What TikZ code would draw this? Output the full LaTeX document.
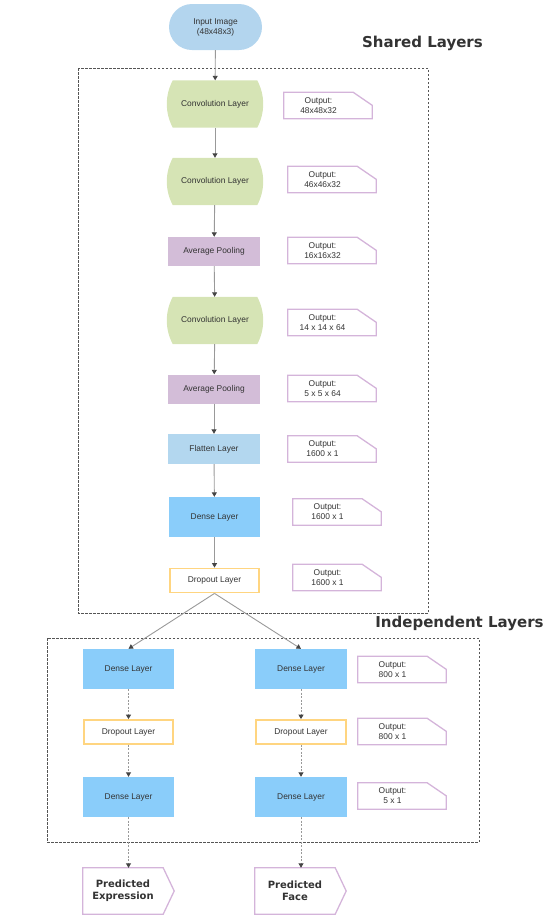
\documentclass[tikz,border=0pt]{standalone}
\usepackage{fontspec}
\newfontfamily\labfont{Liberation Sans}
\newfontfamily\headfont{DejaVu Sans}
\usetikzlibrary{arrows.meta,shapes.misc}
\definecolor{txtc}{HTML}{333333}
\definecolor{inpc}{HTML}{B3D5EE}
\definecolor{convc}{HTML}{D6E4B5}
\definecolor{poolc}{HTML}{D3BDD8}
\definecolor{flatc}{HTML}{B3D7EF}
\definecolor{densec}{HTML}{8ACDFA}
\definecolor{dropc}{HTML}{FFD580}
\definecolor{notec}{HTML}{D4B4DA}
\definecolor{linec}{HTML}{999999}
\definecolor{tipc}{HTML}{444444}
\definecolor{boxc}{HTML}{555555}
\pgfdeclarelayer{bg}
\pgfsetlayers{bg,main}
\begin{document}
\begin{tikzpicture}[x=1pt,y=-1pt,
  base/.style={font=\labfont\fontsize{8.4}{10}\selectfont, text=txtc, inner sep=0pt, align=center},
  inpbox/.style={base, rounded rectangle, fill=inpc, minimum width=93pt, minimum height=46pt},
  convbox/.style={base, minimum width=84pt, minimum height=47pt},
  poolbox/.style={base, fill=poolc, minimum width=92pt, minimum height=29pt},
  flatbox/.style={base, fill=flatc, minimum width=92pt, minimum height=30pt},
  densebox/.style={base, fill=densec, minimum width=91pt, minimum height=40pt},
  dropbox/.style={base, draw=dropc, line width=1.8pt, fill=white, minimum width=89pt, minimum height=24pt},
  notebox/.style={base, minimum width=69pt, minimum height=26pt},
  notedraw/.style={draw=notec, line width=1.3pt},
  predbox/.style={font=\headfont\bfseries\fontsize{10}{12}\selectfont, text=txtc, inner sep=0pt, align=center, minimum width=80pt, minimum height=46pt},
  heading/.style={font=\headfont\bfseries\fontsize{15}{18}\selectfont, text=txtc, inner sep=0pt},
  group/.style={draw=boxc, line width=1pt, dash pattern=on 2.5pt off 1.5pt},
  arr/.style={draw=linec, line width=0.9pt, -{Triangle[width=5pt,length=4.5pt,color=tipc]}},
  darr/.style={arr, dash pattern=on 2pt off 1.5pt}
]
\useasboundingbox (0,0) rectangle (556,922);

% group boxes
\draw[group] (78,68) rectangle (428,613);
\draw[group] (47,638) rectangle (479,842);
\node[heading] (h1) at (422.5,43) {Shared Layers};
\node[heading] (h2) at (459.5,623) {Independent Layers};

% shared column
\node[inpbox] (inp) at (215.5,27) {Input Image\\(48x48x3)};
\node[convbox] (c1) at (215,104) {Convolution Layer};
\node[convbox] (c2) at (215,181.5) {Convolution Layer};
\node[poolbox] (p1) at (214,251.5) {Average Pooling};
\node[convbox] (c3) at (215,320.5) {Convolution Layer};
\node[poolbox] (p2) at (214,389) {Average Pooling};
\node[flatbox] (fl) at (214,449) {Flatten Layer};
\node[densebox] (d1) at (214.5,517) {Dense Layer};
\node[dropbox] (dr) at (214.5,580.5) {Dropout Layer};

\begin{pgfonlayer}{bg}
\foreach \c in {c1,c2,c3}{
  \fill[convc] (\c.north west) .. controls +(-8,15) and +(-8,-15) .. (\c.south west)
     -- (\c.south east) .. controls +(8,-15) and +(8,15) .. (\c.north east) -- cycle;
}
\end{pgfonlayer}

% notes
\node[notebox] (n1) at (318.5,105.5) {Output:\\48x48x32};
\node[notebox] (n2) at (322.5,179.5) {Output:\\46x46x32};
\node[notebox] (n3) at (322.5,250.5) {Output:\\16x16x32};
\node[notebox] (n4) at (322.5,322.5) {Output:\\14 x 14 x 64};
\node[notebox] (n5) at (322.5,388.5) {Output:\\5 x 5 x 64};
\node[notebox] (n6) at (322.5,449) {Output:\\1600 x 1};
\node[notebox] (n7) at (327.5,512) {Output:\\1600 x 1};
\node[notebox] (n8) at (327.5,577.5) {Output:\\1600 x 1};
\node[notebox] (m1) at (392.5,669.5) {Output:\\800 x 1};
\node[notebox] (m2) at (392.5,731.5) {Output:\\800 x 1};
\node[notebox] (m3) at (392.5,796) {Output:\\5 x 1};
\foreach \n in {n1,n2,n3,n4,n5,n6,n7,n8,m1,m2,m3}{
  \draw[notedraw] (\n.north west) -- (\n.north east) -- ([xshift=19pt,yshift=-13pt]\n.north east)
     -- ([xshift=19pt]\n.south east) -- (\n.south west) -- cycle;
}

% independent columns
\node[densebox] (ld1) at (128.5,669) {Dense Layer};
\node[dropbox] (ldr) at (128.5,732) {Dropout Layer};
\node[densebox] (ld2) at (128.5,797) {Dense Layer};
\node[predbox] (lp) at (123,891) {Predicted\\Expression};
\node[densebox, minimum width=92pt] (rd1) at (301,669) {Dense Layer};
\node[dropbox, minimum width=90pt] (rdr) at (301,732) {Dropout Layer};
\node[densebox, minimum width=92pt] (rd2) at (301,797) {Dense Layer};
\node[predbox] (rp) at (295,891) {Predicted\\Face};
\foreach \p in {lp,rp}{
  \draw[notedraw] (\p.north west) -- (\p.north east) -- ([xshift=11pt]\p.east)
     -- (\p.south east) -- (\p.south west) -- cycle;
}

% connectors
\draw[arr] (inp) -- (c1);
\draw[arr] (c1) -- (c2);
\draw[arr] (c2) -- (p1);
\draw[arr] (p1) -- (c3);
\draw[arr] (c3) -- (p2);
\draw[arr] (p2) -- (fl);
\draw[arr] (fl) -- (d1);
\draw[arr] (d1) -- (dr);
\draw[arr] (dr.south) -- (ld1.north);
\draw[arr] (dr.south) -- (rd1.north);
\draw[darr] (ld1) -- (ldr);
\draw[darr] (ldr) -- (ld2);
\draw[darr] (ld2.south) -- (ld2.south |- lp.north);
\draw[darr] (rd1) -- (rdr);
\draw[darr] (rdr) -- (rd2);
\draw[darr] (rd2.south) -- (rd2.south |- rp.north);
\end{tikzpicture}
\end{document}
